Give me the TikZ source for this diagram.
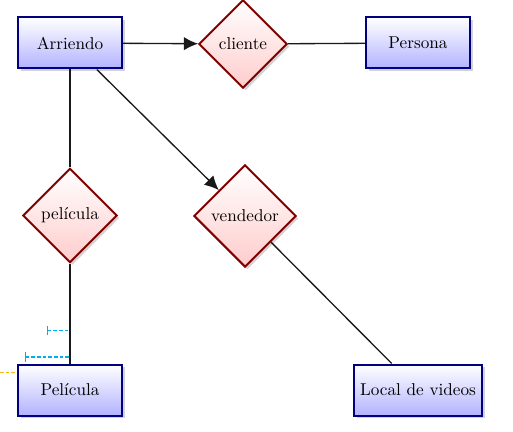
\documentclass[tikz,border=0pt]{standalone}
\usetikzlibrary{shapes.geometric,shadows,arrows.meta}
\definecolor{dimcyan}{RGB}{0,175,235}
\definecolor{dimorange}{RGB}{245,185,20}
\tikzset{
  entity/.style={rectangle, draw=blue!50!black, very thick, top color=white, bottom color=blue!30,
    minimum width=62.4pt, minimum height=30.6pt, inner sep=2pt, font=\fontsize{10.3}{12}\selectfont,
    drop shadow={shadow xshift=1.5pt, shadow yshift=-1.5pt, opacity=0.35}},
  relation/.style={diamond, aspect=1, draw=red!50!black, very thick, top color=white, bottom color=red!20,
    inner sep=0pt, font=\fontsize{10.3}{12}\selectfont,
    drop shadow={shadow xshift=1.5pt, shadow yshift=-1.5pt, opacity=0.35}},
  conn/.style={thick, draw=black!90},
  dimline/.style={draw=dimcyan, dash pattern=on 2.2pt off 1.2pt, thick, {Bar[width=5.5pt,line width=0.8pt]}-},
}
\begin{document}
\begin{tikzpicture}[x=0.6pt, y=-0.6pt]
\useasboundingbox (0,0) rectangle (513,432);
\node[entity] (arriendo) at (70,43) {Arriendo};
\node[entity] (persona) at (418,43) {Persona};
\node[entity] (pelicula) at (70,390) {Película};
\node[entity, minimum width=76.8pt] (local) at (418,390) {Local de videos};
\node[relation, minimum size=53pt] (cliente) at (243,44) {cliente};
\node[relation, minimum size=56.5pt] (relpel) at (70,215.5) {película};
\node[relation, minimum size=61.3pt] (vendedor) at (245,216) {vendedor};

\draw[conn, -{Latex[length=8.5pt,width=8pt]}] (arriendo) -- (cliente);
\draw[conn] (cliente) -- (persona);
\draw[conn] (arriendo) -- (relpel);
\draw[conn, -{Latex[length=8.5pt,width=8pt]}] (arriendo) -- (vendedor);
\draw[conn] (vendedor) -- (local);
\draw[conn] (relpel) -- (pelicula);

\coordinate (d1a) at (46.7,330.7);
\coordinate (d1b) at (68.5,330.7);
\coordinate (d2a) at (24.7,357);
\coordinate (d2b) at (68.5,357);
\coordinate (o1) at (0,372.3);
\coordinate (o2) at (15,372.3);
\draw[dimline] (d1a) -- (d1b);
\draw[dimline] (d2a) -- (d2b);
\draw[draw=dimorange, thick, dash pattern=on 2.2pt off 1.2pt] (o1) -- (o2);
\end{tikzpicture}
\end{document}
